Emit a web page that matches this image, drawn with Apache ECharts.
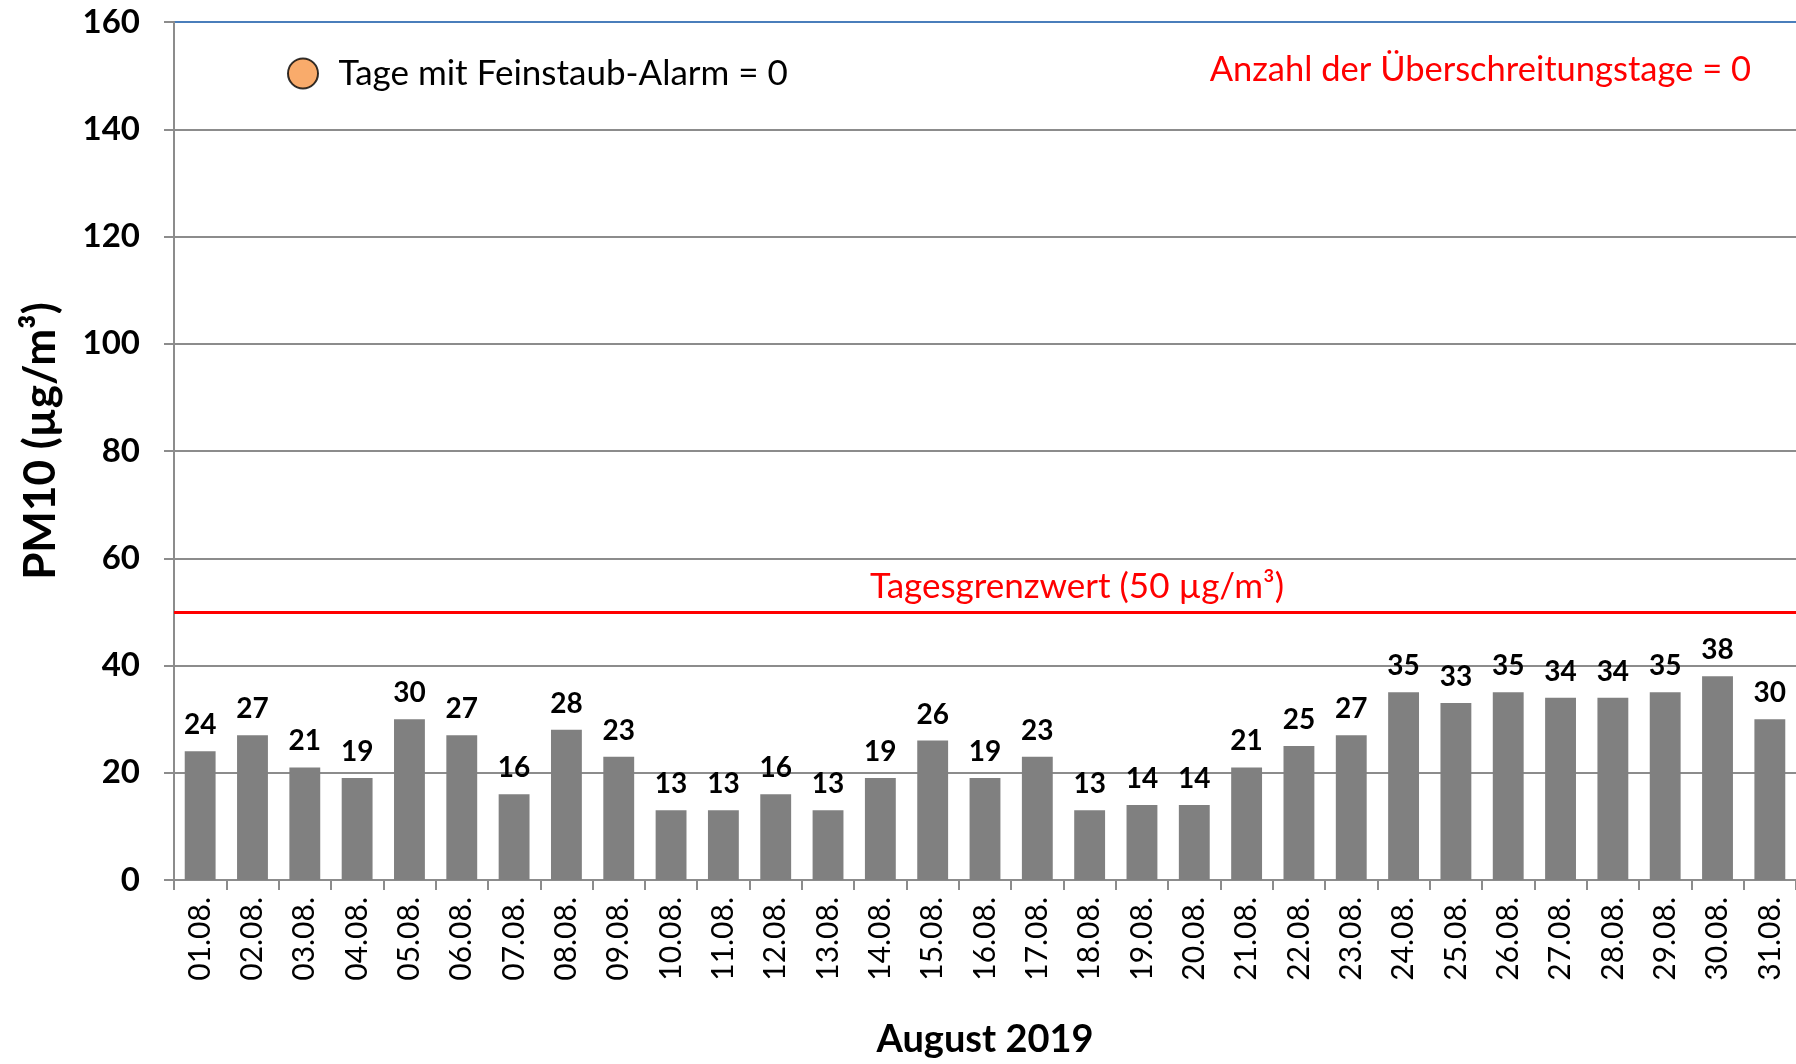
<!DOCTYPE html>
<html>
<head>
<meta charset="utf-8">
<title>PM10 August 2019</title>
<script src="https://cdn.jsdelivr.net/npm/echarts@6/dist/echarts.min.js"></script>
<style>
  html, body { margin: 0; padding: 0; background: #fff; }
  #main { width: 1796px; height: 1064px; }
</style>
</head>
<body>
<div id="main"></div>
<script>
var days = ['01.08.', '02.08.', '03.08.', '04.08.', '05.08.', '06.08.', '07.08.', '08.08.',
  '09.08.', '10.08.', '11.08.', '12.08.', '13.08.', '14.08.', '15.08.', '16.08.',
  '17.08.', '18.08.', '19.08.', '20.08.', '21.08.', '22.08.', '23.08.', '24.08.',
  '25.08.', '26.08.', '27.08.', '28.08.', '29.08.', '30.08.', '31.08.'];
var pm10 = [24, 27, 21, 19, 30, 27, 16, 28, 23, 13, 13, 16, 13, 19, 26, 19,
  23, 13, 14, 14, 21, 25, 27, 35, 33, 35, 34, 34, 35, 38, 30];
var alarmDays = [];      // keine Tage mit Feinstaub-Alarm
var limitValue = 50;     // Tagesgrenzwert
var yMin = 0, yMax = 160, yStep = 20;

var font = 'Lato';
var myChart = echarts.init(document.getElementById('main'));
var option = {
    animation: false,
    textStyle: { fontFamily: font },
    title: {
        text: 'Anzahl der Überschreitungstage = 0',
        right: 40,
        top: 47,
        textStyle: { color: '#ff0000', fontWeight: 'normal', fontSize: 34.5, fontFamily: font }
    },
    legend: {
        data: ['Tage mit Feinstaub-Alarm = 0'],
        left: 282,
        top: 51,
        icon: 'circle',
        itemWidth: 61,
        itemHeight: 30,
        textStyle: { fontSize: 35, color: '#000', fontFamily: font }
    },
    grid: { left: 174, right: 0, top: 22, bottom: 184, outerBoundsMode: 'none' },
    xAxis: {
        type: 'category',
        data: days,
        name: 'August 2019',
        nameLocation: 'middle',
        nameGap: 141,
        nameTextStyle: { fontSize: 38, fontWeight: 'bold', color: '#000' },
        axisLine: { lineStyle: { color: '#8c8c8c', width: 2 } },
        axisTick: { show: true, alignWithLabel: false, length: 10, lineStyle: { color: '#8c8c8c', width: 2 } },
        axisLabel: { interval: 0, rotate: 90, fontSize: 30, color: '#000', margin: 17 }
    },
    yAxis: {
        type: 'value',
        min: yMin,
        max: yMax,
        interval: yStep,
        name: 'PM10 (µg/m³)',
        nameLocation: 'middle',
        nameRotate: 90,
        nameGap: 111,
        nameTextStyle: { fontSize: 44, fontWeight: 'bold', color: '#000', padding: [0, 0, 0, 20] },
        axisLine: { show: true, lineStyle: { color: '#8c8c8c', width: 2 } },
        axisTick: { show: true, length: 10, lineStyle: { color: '#8c8c8c', width: 2 } },
        axisLabel: { fontSize: 33, fontWeight: 'bold', color: '#000', margin: 34 },
        splitLine: {
            lineStyle: {
                width: 2,
                color: ['#8c8c8c', '#8c8c8c', '#8c8c8c', '#8c8c8c', '#8c8c8c',
                        '#8c8c8c', '#8c8c8c', '#8c8c8c', '#4a7ebb']
            }
        }
    },
    series: [
        {
            name: 'PM10',
            type: 'bar',
            data: pm10,
            barCategoryGap: '41%',
            itemStyle: { color: '#808080' },
            label: {
                show: true,
                position: 'top',
                distance: 12,
                fontSize: 28,
                fontWeight: 'bold',
                color: '#000'
            },
            markLine: {
                silent: true,
                symbol: 'none',
                lineStyle: { color: '#ff0000', width: 3, type: 'solid' },
                label: {
                    formatter: 'Tagesgrenzwert (50 µg/m³)',
                    position: 'insideMiddleTop',
                    offset: [92, 0],
                    distance: 8,
                    fontSize: 35,
                    color: '#ff0000',
                    fontFamily: font
                },
                data: [{ yAxis: limitValue }]
            }
        },
        {
            name: 'Tage mit Feinstaub-Alarm = 0',
            type: 'scatter',
            data: alarmDays,
            itemStyle: { color: '#f79646', borderColor: '#000', borderWidth: 2.5 }
        }
    ]
};
myChart.setOption(option);
</script>
</body>
</html>
